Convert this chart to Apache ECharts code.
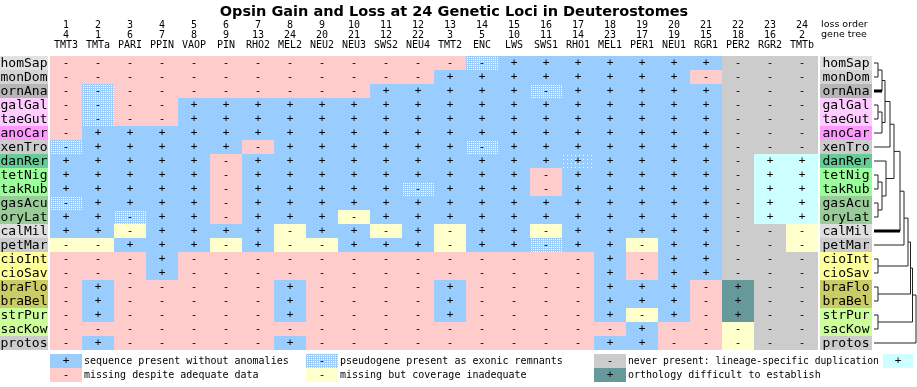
<!DOCTYPE html>
<html><head><meta charset="utf-8">
<script src="https://cdn.jsdelivr.net/npm/echarts@6/dist/echarts.min.js"></script>
<style>html,body{margin:0;padding:0;background:#fff}#c{width:917px;height:387px}</style>
</head><body><div id="c"></div>
<script>
// ---------- data ----------
const loci = ['TMT3','TMTa','PARI','PPIN','VAOP','PIN','RHO2','MEL2','NEU2','NEU3','SWS2','NEU4','TMT2','ENC','LWS','SWS1','RHO1','MEL1','PER1','NEU1','RGR1','PER2','RGR2','TMTb'];
const lossOrder = [1,2,3,4,5,6,7,8,9,10,11,12,13,14,15,16,17,18,19,20,21,22,23,24];
const geneTree = [4,1,6,7,8,9,13,24,20,21,12,22,3,5,10,11,14,23,17,19,15,18,16,2];
const species = ['homSap','monDom','ornAna','galGal','taeGut','anoCar','xenTro','danRer','tetNig','takRub','gasAcu','oryLat','calMil','petMar','cioInt','cioSav','braFlo','braBel','strPur','sacKow','protos'];
// P present, M missing, Y coverage inadequate, G never present, D pseudogene,
// S present (partial remnants), T orthology difficult, C lineage-specific duplication
const states = [
  'MMMMMMMMMMMMMDPPPPPPPGGG',
  'MMMMMMMMMMMMPPPPPPPPMGGG',
  'MDMMMMMMMMPPPPPDPPPPPGGG',
  'MDMMPPPPPPPPPPPPPPPPPGGG',
  'MDMMPPPPPPPPPPPPPPPPPGGG',
  'MPPPPPPPPPPPPPPPPPPPPGGG',
  'DPPPPPMPPPPPPDPPPPPPPGGG',
  'PPPPPMPPPPPPPPPPSPPPPGCC',
  'PPPPPMPPPPPPPPPMPPPPPGCC',
  'PPPPPMPPPPPDPPPMPPPPPGCC',
  'DPPPPMPPPPPPPPPPPPPPPGCC',
  'PPDPPMPPPYPPPPPPPPPPPGCC',
  'PPYPPPPYPPYPYPPYPPPPPGGY',
  'YYPPPYPYYPPPYPPDPPYPPGGY',
  'MMMPMMMMMMMMMMMMMPMPPGGG',
  'MMMPMMMMMMMMMMMMMPMPPGGG',
  'MPMMMMMPMMMMPMMMMPPPMTGG',
  'MPMMMMMPMMMMPMMMMPPPMTGG',
  'MPMMMMMPMMMMPMMMMPYPMTGG',
  'MMMMMMMMMMMMMMMMMMPMMYGG',
  'MPMMMMMPMMMMMMMMMPPMMYGG'
];
// species tree: [left, right, branch depth]; leaves are species indices
const tree = [[[[[[[[[[[0,1,6],2,10],[[3,4,6],5,10],13],6,18],[7,[[8,9,6],[10,11,6],10],14],22],12,28],13,32],[14,15,6],36],[16,17,6],38.5],[18,19,6],40.5],20,44];
const thickLeaves = [2,12];
const legendItems = [
  ['P','sequence present without anomalies'],
  ['M','missing despite adequate data'],
  ['D','pseudogene present as exonic remnants'],
  ['Y','missing but coverage inadequate'],
  ['G','never present: lineage-specific duplication'],
  ['T','orthology difficult to establish']
];

// ---------- styles ----------
const labelColors = {homSap:'#e2e2e2',monDom:'#d4d4d4',ornAna:'#b6b6b6',galGal:'#ffccff',taeGut:'#ffccff',anoCar:'#ff99ff',xenTro:'#cccccc',danRer:'#66cc99',tetNig:'#99ff99',takRub:'#99ff99',gasAcu:'#99cc99',oryLat:'#99cc99',calMil:'#dedede',petMar:'#cccccc',cioInt:'#ffff99',cioSav:'#ffff99',braFlo:'#cccc66',braBel:'#cccc66',strPur:'#ccff99',sacKow:'#ccff99',protos:'#cccccc'};
const fills = {P:'#99ccff',M:'#ffcccc',Y:'#ffffcc',G:'#cccccc',D:'#99ccff',S:'#99ccff',T:'#669999',C:'#ccffff'};
const dotPitch = {D:2,S:4};
const symbols = {P:'+',M:'-',Y:'-',G:'-',D:'-',S:'+',T:'+',C:'+'};
const MONO='DejaVu Sans Mono';

function dotsPath(x0,y0,w,h,p){
  let d='';
  x0=Math.round(x0); y0=Math.round(y0);
  for(let j=1;j<h;j+=p) for(let i=1;i<w;i+=p) d+='M'+(x0+i)+' '+(y0+j)+'h1v1h-1Z';
  return d;
}
function cellChildren(x,y,w,h,code,font,rectDots){
  const ch=[{type:'rect',shape:{x:x,y:y,width:w,height:h},style:{fill:fills[code]}}];
  const p=dotPitch[code];
  if(p){
    if(rectDots){
      for(let j=1;j<h;j+=p) for(let i=1;i<w;i+=p) ch.push({type:'rect',shape:{x:x+i,y:y+j,width:1,height:1},style:{fill:'#ffffff'}});
    } else {
      ch.push({type:'path',shape:{pathData:dotsPath(x,y,w,h,p)},style:{fill:'#ffffff',stroke:null}});
    }
  }
  ch.push({type:'text',x:x+w/2,y:y+h/2,style:{text:symbols[code],align:'center',verticalAlign:'middle',font:font,fill:'#000'}});
  return ch;
}

// ---------- build ----------
const cellData=[], cellCodes=[];
states.forEach((row,r)=>{ for(let c=0;c<row.length;c++){ cellData.push([c,r]); cellCodes.push(row[c]); } });

const treeLines=[], thickLines=[];
function layout(node){
  if(typeof node==='number') return {x:2,y:node,leaf:node};
  const a=layout(node[0]), b=layout(node[1]), h=node[2];
  treeLines.push({coords:[[a.x,a.y],[h,a.y],[h,b.y],[b.x,b.y]]});
  [a,b].forEach(ch=>{ if(ch.leaf!==undefined && thickLeaves.includes(ch.leaf)) thickLines.push({coords:[[ch.x,ch.y],[h,ch.y]]}); });
  return {x:h,y:(a.y+b.y)/2};
}
layout(tree);

function labelSeries(xi){
  return {type:'custom',xAxisIndex:xi,yAxisIndex:xi,data:species.map((s,i)=>[0,i]),silent:true,
    renderItem(params,api){
      const c=api.coord([api.value(0),api.value(1)]), s=api.size([1,1]);
      const name=species[params.dataIndex];
      return {type:'group',children:[
        {type:'rect',shape:{x:c[0]-s[0]/2,y:c[1]-s[1]/2,width:s[0],height:s[1]},style:{fill:labelColors[name]}},
        {type:'text',x:c[0],y:c[1]+0.5,style:{text:name,align:'center',verticalAlign:'middle',font:'13px "'+MONO+'"',fill:'#000'}}
      ]};
    }};
}

// legend graphic
const legendGraphics=[];
const colX=[50,306,594], rowY=[354,368];
legendItems.forEach((it,i)=>{
  const col=Math.floor(i/2), row=i%2;
  const x=colX[col], y=rowY[row];
  legendGraphics.push({type:'group',x:x,y:y,children:cellChildren(0,0,32,14,it[0],'11px "'+MONO+'"',true)});
  legendGraphics.push({type:'text',x:x+34,y:y+2,style:{text:it[1],font:(col===2&&row===0?'9.7px':'10px')+' "'+MONO+'"',fill:'#000'}});
});
legendGraphics.push({type:'group',x:883,y:354,children:cellChildren(0,0,30,14,'C','11px "'+MONO+'"',true)});
legendGraphics.push({type:'text',x:821,y:20,style:{text:'loss order',font:'9.5px "DejaVu Sans"',fill:'#000'}});
legendGraphics.push({type:'text',x:821,y:30,style:{text:'gene tree',font:'9.5px "DejaVu Sans"',fill:'#000'}});

const chart=echarts.init(document.getElementById('c'),null,{renderer:'canvas'});
chart.setOption({
  animation:false,
  backgroundColor:'#fff',
  title:{text:'Opsin Gain and Loss at 24 Genetic Loci in Deuterostomes',left:449,textAlign:'center',top:0,
    textStyle:{fontFamily:'DejaVu Sans',fontWeight:'bold',fontSize:14.5,color:'#000'}},
  grid:[
    {left:50,top:56,width:768,height:294},
    {left:0,top:56,width:48,height:294},
    {left:820,top:56,width:52,height:294},
    {left:872,top:56,width:45,height:294}
  ],
  xAxis:[
    {type:'category',gridIndex:0,data:loci,position:'top',axisLine:{show:false},axisTick:{show:false},
      axisLabel:{interval:0,margin:6,fontFamily:MONO,fontSize:10,lineHeight:10,color:'#000',
        formatter:(v,i)=>lossOrder[i]+'\n'+geneTree[i]+'\n'+v}},
    {type:'category',gridIndex:1,data:['a'],show:false},
    {type:'category',gridIndex:2,data:['a'],show:false},
    {type:'value',gridIndex:3,min:0,max:45,show:false}
  ],
  yAxis:[
    {type:'category',gridIndex:0,data:species,inverse:true,show:false},
    {type:'category',gridIndex:1,data:species,inverse:true,show:false},
    {type:'category',gridIndex:2,data:species,inverse:true,show:false},
    {type:'value',gridIndex:3,min:-0.5,max:20.5,inverse:true,show:false}
  ],
  series:[
    {type:'custom',xAxisIndex:0,yAxisIndex:0,data:cellData,silent:true,
      renderItem(params,api){
        const c=api.coord([api.value(0),api.value(1)]), s=api.size([1,1]);
        const code=cellCodes[params.dataIndex];
        return {type:'group',children:cellChildren(c[0]-s[0]/2,c[1]-s[1]/2,s[0],s[1],code,'11px "'+MONO+'"',false)};
      }},
    labelSeries(1),
    labelSeries(2),
    {type:'lines',coordinateSystem:'cartesian2d',xAxisIndex:3,yAxisIndex:3,polyline:true,silent:true,
      lineStyle:{color:'#222',width:1,opacity:1},data:treeLines},
    {type:'lines',coordinateSystem:'cartesian2d',xAxisIndex:3,yAxisIndex:3,polyline:true,silent:true,
      lineStyle:{color:'#000',width:3,opacity:1},data:thickLines}
  ],
  graphic:legendGraphics
});
</script></body></html>
